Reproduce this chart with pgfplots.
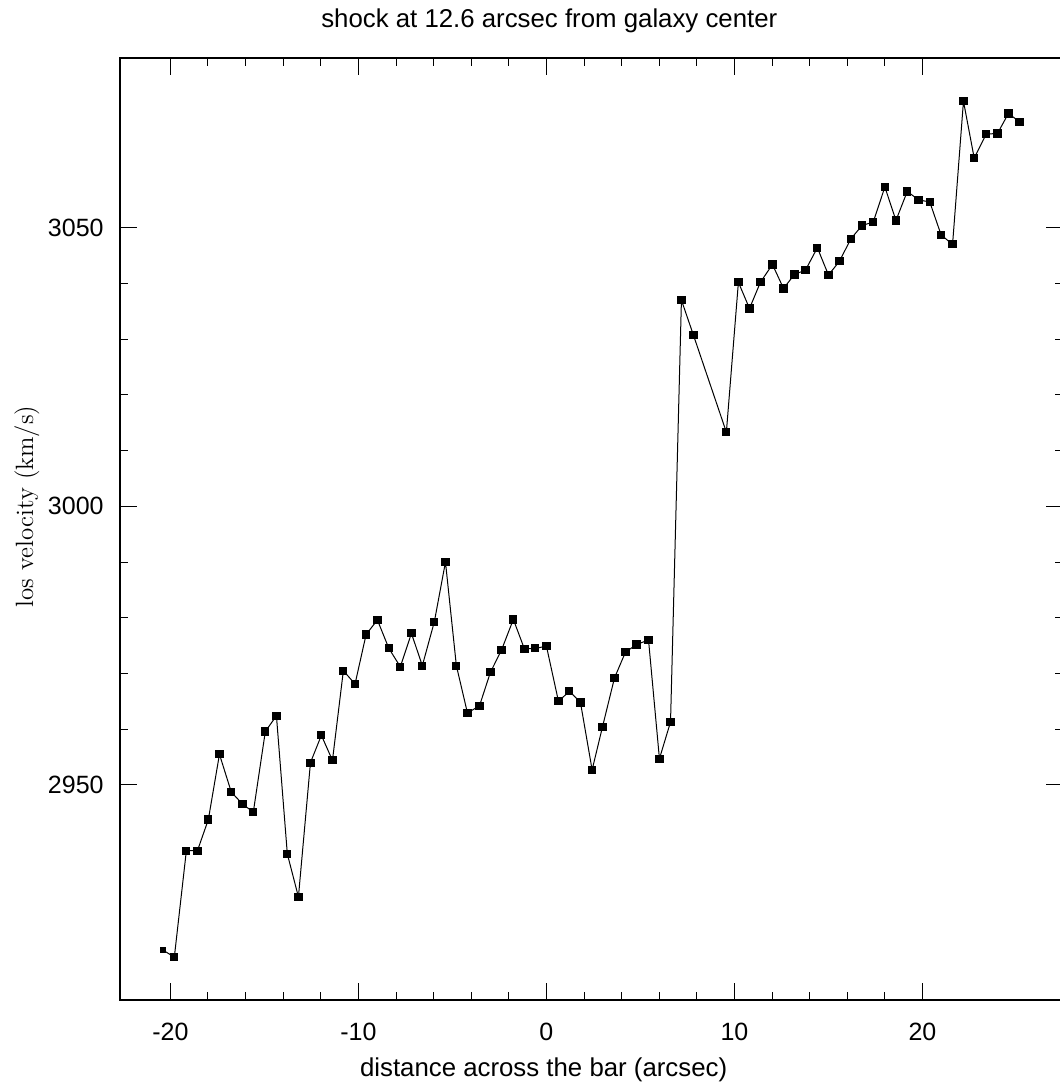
\documentclass[border=0pt]{standalone}
\usepackage{pgfplots}
\pgfplotsset{compat=1.18}
\usepackage{fontspec}
\newfontfamily\sans{Liberation Sans}
\begin{document}
\begin{tikzpicture}
\begin{axis}[
  scale only axis, width=471.75pt, height=471pt,
  anchor=south west, at={(0,0)},
  xmin=-22.68, xmax=27.5, ymin=2911.4, ymax=3080.45,
  xtick={-20,-10,0,10,20}, xticklabels={-20,-10,0,10,20},
  ytick={2950,3000,3050}, yticklabels={2950,3000,3050},
  minor x tick num=4, minor y tick num=4,
  tick align=inside,
  major tick length=8.5pt, minor tick length=4.25pt,
  axis line style={line width=0.7pt},
  every tick/.style={black, line width=0.5pt},
  xticklabel style={font=\sans\fontsize{12.5}{15}\selectfont, anchor=base, yshift=-20pt, inner sep=0pt},
  yticklabel style={font=\sans\fontsize{12.5}{15}\selectfont, anchor=east, xshift=-8pt, inner sep=0pt},
  title={shock at 12.6 arcsec from galaxy center},
  every axis title/.style={at={(axis description cs:0.455,1.0329)}, anchor=base, inner sep=0pt, font=\sans\fontsize{12.9}{15}\selectfont},
  xlabel={distance across the bar (arcsec)},
  every axis x label/.style={at={(axis description cs:0.449,-0.0817)}, anchor=base, inner sep=0pt, font=\sans\fontsize{12.9}{15}\selectfont},
  ylabel={los velocity (km/s)},
  every axis y label/.style={at={(axis description cs:-0.0922,0.524)}, rotate=90, anchor=base, inner sep=0pt, font=\fontsize{12.5}{15}\selectfont},
]
\addplot[black, line width=0.5pt, no marks] table {
x y
-20.37 2920.3
-19.79 2919.1
-19.15 2938.2
-18.56 2938.2
-17.98 2943.8
-17.39 2955.5
-16.76 2948.7
-16.17 2946.6
-15.59 2945.1
-14.95 2959.6
-14.36 2962.4
-13.78 2937.6
-13.19 2929.9
-12.55 2954.0
-11.97 2958.9
-11.38 2954.4
-10.80 2970.5
-10.18 2968.1
-9.59 2977.0
-8.99 2979.6
-8.38 2974.5
-7.77 2971.2
-7.18 2977.2
-6.60 2971.4
-5.96 2979.3
-5.37 2990.0
-4.79 2971.4
-4.20 2962.9
-3.56 2964.2
-2.98 2970.2
-2.39 2974.2
-1.76 2979.7
-1.17 2974.4
-0.59 2974.5
0.00 2974.9
0.64 2965.0
1.22 2966.8
1.81 2964.8
2.43 2952.7
2.98 2960.4
3.62 2969.2
4.20 2973.8
4.79 2975.2
5.43 2976.0
6.01 2954.7
6.60 2961.3
7.18 3037.0
7.82 3030.7
9.57 3013.3
10.21 3040.2
10.80 3035.5
11.38 3040.2
12.02 3043.4
12.61 3039.1
13.19 3041.6
13.78 3042.4
14.41 3046.4
15.00 3041.5
15.59 3044.0
16.19 3048.0
16.79 3050.4
17.38 3051.0
18.00 3057.3
18.59 3051.3
19.19 3056.5
19.79 3055.0
20.39 3054.6
20.99 3048.7
21.60 3047.0
22.18 3072.7
22.75 3062.5
23.39 3066.8
23.99 3066.9
24.57 3070.5
25.16 3069.0
};
\addplot[only marks, mark=square*, mark size=1.25pt, mark options={fill=black, draw=black, line width=0pt}] table {
x y
-20.37 2920.3
};
\addplot[only marks, mark=square*, mark size=1.8pt, mark options={fill=black, draw=black, line width=0pt}] table {
x y
-19.79 2919.1
-19.15 2938.2
-18.56 2938.2
-17.98 2943.8
-17.39 2955.5
-16.76 2948.7
-16.17 2946.6
-15.59 2945.1
-14.95 2959.6
-14.36 2962.4
-13.78 2937.6
-13.19 2929.9
-12.55 2954.0
-11.97 2958.9
-11.38 2954.4
-10.80 2970.5
-10.18 2968.1
-9.59 2977.0
-8.99 2979.6
-8.38 2974.5
-7.77 2971.2
-7.18 2977.2
-6.60 2971.4
-5.96 2979.3
-5.37 2990.0
-4.79 2971.4
-4.20 2962.9
-3.56 2964.2
-2.98 2970.2
-2.39 2974.2
-1.76 2979.7
-1.17 2974.4
-0.59 2974.5
0.00 2974.9
0.64 2965.0
1.22 2966.8
1.81 2964.8
2.43 2952.7
2.98 2960.4
3.62 2969.2
4.20 2973.8
4.79 2975.2
5.43 2976.0
6.01 2954.7
6.60 2961.3
7.18 3037.0
7.82 3030.7
9.57 3013.3
10.21 3040.2
10.80 3035.5
11.38 3040.2
12.02 3043.4
12.61 3039.1
13.19 3041.6
13.78 3042.4
14.41 3046.4
15.00 3041.5
15.59 3044.0
16.19 3048.0
16.79 3050.4
17.38 3051.0
18.00 3057.3
18.59 3051.3
19.19 3056.5
19.79 3055.0
20.39 3054.6
20.99 3048.7
21.60 3047.0
22.18 3072.7
22.75 3062.5
23.39 3066.8
23.99 3066.9
24.57 3070.5
25.16 3069.0
};
\end{axis}
\pgfresetboundingbox
\path (-60pt,-44pt) rectangle (470pt,500pt);
\end{tikzpicture}
\end{document}
